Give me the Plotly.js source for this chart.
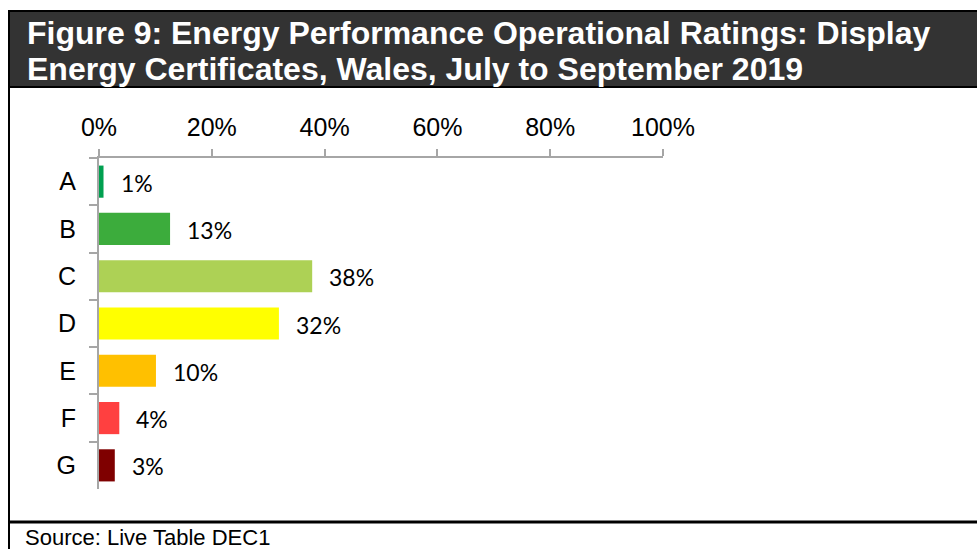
<!DOCTYPE html>
<html>
<head>
<meta charset="utf-8">
<script src="https://cdn.plot.ly/plotly-3.0.1.min.js"></script>
<style>
html,body{margin:0;padding:0;background:#fff;}
#chart{width:977px;height:549px;}
</style>
</head>
<body>
<div id="chart"></div>
<script>
// Data
var ratings = ["A", "B", "C", "D", "E", "F", "G"];
var shares = [0.8, 12.6, 37.8, 31.9, 10.1, 3.6, 2.8];
var shareLabels = ["1%", "13%", "38%", "32%", "10%", "4%", "3%"];
var barColors = ["#00A050", "#3CAC3C", "#ADD155", "#FFFF00", "#FFC000", "#FF4040", "#7F0000"];
var tickVals = [0, 20, 40, 60, 80, 100];
var tickText = ["0%", "20%", "40%", "60%", "80%", "100%"];
var titleLines = ["Figure 9: Energy Performance Operational Ratings: Display",
                  "Energy Certificates, Wales, July to September 2019"];
var sourceText = "Source: Live Table DEC1";

// pixel -> paper helpers (plot area x 99..663, y 158..489)
var L = 99, R = 663, T = 158, B = 489, W = 977, H = 549;
function px(x) { return (x - L) / (R - L); }
function py(y) { return (B - y) / (B - T); }

var trace = {
  type: "bar",
  orientation: "h",
  y: ratings,
  x: shares,
  marker: { color: barColors, line: { width: 0 } },
  width: 0.68,
  hoverinfo: "skip"
};

var annotations = [];
for (var i = 0; i < ratings.length; i++) {
  annotations.push({
    x: shares[i], y: ratings[i], xref: "x", yref: "y",
    text: shareLabels[i], showarrow: false,
    xanchor: "left", yanchor: "middle", xshift: 15, yshift: -1,
    font: { family: "Lato, 'Open Sans', sans-serif", size: 23, color: "#000" }
  });
}
annotations.push({
  x: px(25), y: py(33), xref: "paper", yref: "paper",
  text: "<b>" + titleLines[0] + "</b>", showarrow: false,
  xanchor: "left", yanchor: "middle",
  font: { family: "Liberation Sans, Arial, sans-serif", size: 32, color: "#ffffff" }
});
annotations.push({
  x: px(25), y: py(69), xref: "paper", yref: "paper",
  text: "<b>" + titleLines[1] + "</b>", showarrow: false,
  xanchor: "left", yanchor: "middle",
  font: { family: "Liberation Sans, Arial, sans-serif", size: 32, color: "#ffffff" }
});
annotations.push({
  x: px(23), y: py(537), xref: "paper", yref: "paper",
  text: sourceText, showarrow: false,
  xanchor: "left", yanchor: "middle",
  font: { family: "Liberation Sans, Arial, sans-serif", size: 22, color: "#000" }
});

var shapes = [
  { type: "rect", xref: "paper", yref: "paper",
    x0: px(9), x1: px(985), y0: py(87), y1: py(11),
    fillcolor: "#333333", line: { color: "#000", width: 2 }, layer: "below" },
  { type: "line", xref: "paper", yref: "paper",
    x0: px(9), x1: px(9), y0: py(11), y1: py(560),
    line: { color: "#000", width: 2 } },
  { type: "line", xref: "paper", yref: "paper",
    x0: px(9), x1: px(985), y0: py(522), y1: py(522),
    line: { color: "#000", width: 3 } }
];

var layout = {
  width: W, height: H,
  margin: { l: L, r: W - R, t: T, b: H - B, pad: 0 },
  paper_bgcolor: "#ffffff",
  plot_bgcolor: "rgba(0,0,0,0)",
  showlegend: false,
  xaxis: {
    side: "top",
    range: [0, 100],
    tickvals: tickVals,
    ticktext: tickText,
    showgrid: false,
    zeroline: false,
    showline: true,
    linecolor: "#a6a6a6",
    linewidth: 2,
    ticks: "outside",
    ticklen: 7,
    tickwidth: 2,
    tickcolor: "#a6a6a6",
    ticklabelstandoff: 3,
    tickfont: { family: "Liberation Sans, Arial, sans-serif", size: 25, color: "#000" },
    fixedrange: true
  },
  yaxis: {
    type: "category",
    categoryorder: "array",
    categoryarray: ratings,
    autorange: "reversed",
    showgrid: false,
    zeroline: false,
    showline: true,
    linecolor: "#a6a6a6",
    linewidth: 2,
    ticks: "outside",
    tickson: "boundaries",
    ticklen: 8,
    tickwidth: 2,
    tickcolor: "#a6a6a6",
    ticklabelstandoff: 16,
    tickfont: { family: "Liberation Sans, Arial, sans-serif", size: 25, color: "#000" },
    fixedrange: true
  },
  shapes: shapes,
  annotations: annotations
};

Plotly.newPlot("chart", [trace], layout, { displayModeBar: false, staticPlot: true });
</script>
</body>
</html>
